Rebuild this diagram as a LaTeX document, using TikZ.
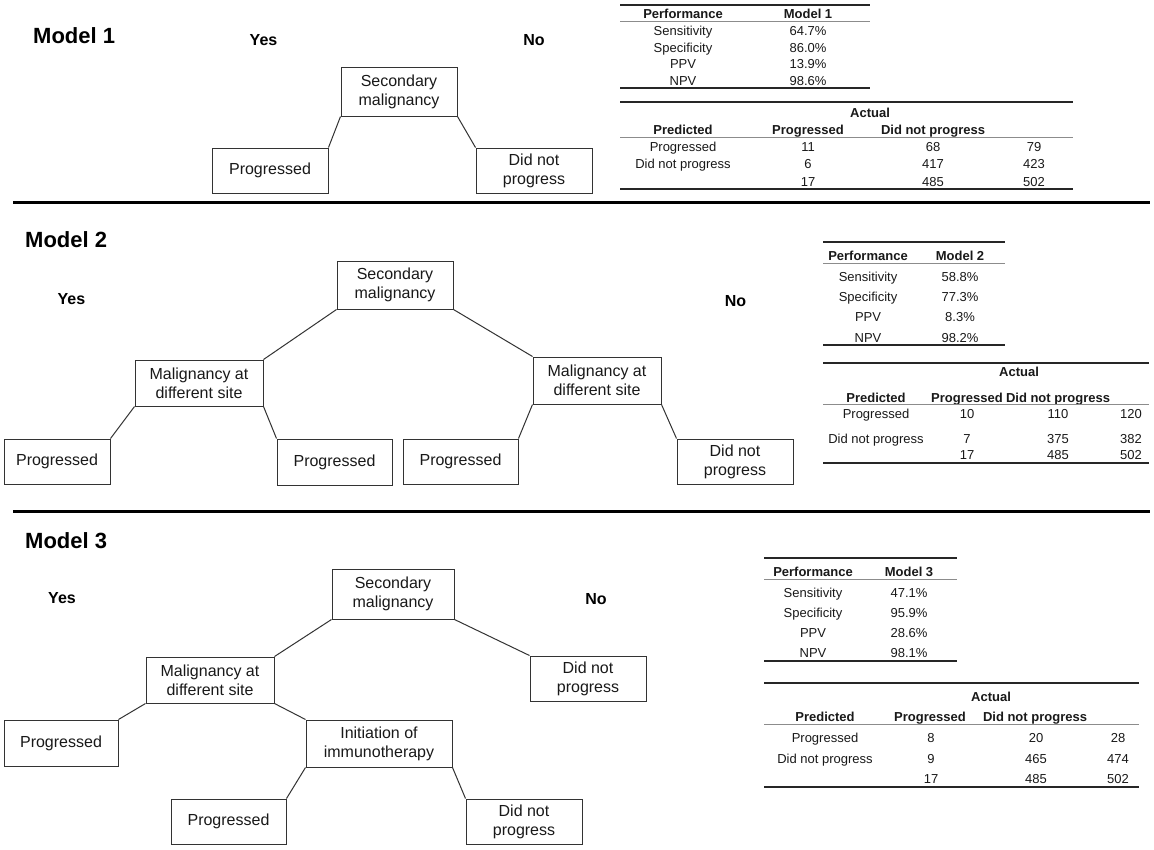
\documentclass[tikz,border=0pt]{standalone}
\usepackage{fontspec}
\setmainfont{Liberation Sans}
\begin{document}
\begin{tikzpicture}[x=1pt,y=-1pt,
 box/.style={draw=black!80,line width=1pt,inner sep=0pt,align=center,text=black!90,font=\fontsize{16}{19}\selectfont},
 conn/.style={draw=black!80,line width=1pt},
 title/.style={font=\bfseries\fontsize{22}{26}\selectfont,anchor=base west,inner sep=0pt},
 yn/.style={font=\bfseries\fontsize{16}{19}\selectfont,anchor=base,inner sep=0pt},
 tt/.style={font=\fontsize{13}{15}\selectfont,anchor=base,inner sep=0pt,text=black!90},
 th/.style={tt,font=\bfseries\fontsize{13}{15}\selectfont},
 sep/.style={line width=3pt,black},
 rule/.style={line width=1.8pt,black!85},
 mid/.style={line width=0.8pt,black!45}]
\useasboundingbox[fill=white] (0,0) rectangle (1154,849);

% ================= Model 1 =================
\node[title] (m1t) at (33,43) {Model 1};
\node[yn] (m1y) at (263.5,45) {Yes};
\node[yn] (m1n) at (534,45) {No};
\node[box,minimum width=116pt,minimum height=49pt] (m1s) at (399,91.5) {Secondary\\malignancy};
\node[box,minimum width=116pt,minimum height=45pt] (m1p) at (270,170.5) {Progressed};
\node[box,minimum width=116pt,minimum height=45pt] (m1d) at (534,170.5) {Did not\\progress};
\draw[conn] (m1s.south west) -- (m1p.north east);
\draw[conn] (m1s.south east) -- (m1d.north west);

\draw[rule] (620,5) -- (870,5);
\node[th] (p1h) at (683,18) {Performance};
\node[th] (p1m) at (808,18) {Model 1};
\draw[mid] (620,21.5) -- (870,21.5);
\foreach \lab/\val/\yy [count=\i] in {Sensitivity/64.7\%/35,Specificity/86.0\%/52,PPV/13.9\%/68,NPV/98.6\%/85}{
  \node[tt] (p1l\i) at (683,\yy) {\lab};
  \node[tt] (p1v\i) at (808,\yy) {\val};
}
\draw[rule] (620,88) -- (870,88);

\draw[rule] (620,102) -- (1073,102);
\node[th] (c1a) at (870,117) {Actual};
\node[th] (c1h1) at (683,134) {Predicted};
\node[th] (c1h2) at (808,134) {Progressed};
\node[th] (c1h3) at (933,134) {Did not progress};
\draw[mid] (620,137.5) -- (1073,137.5);
\foreach \lab/\a/\b/\c/\yy [count=\i] in {Progressed/11/68/79/151,Did not progress/6/417/423/168,{}/17/485/502/186}{
  \node[tt] (c1l\i) at (683,\yy) {\lab};
  \node[tt] (c1a\i) at (808,\yy) {\a};
  \node[tt] (c1b\i) at (933,\yy) {\b};
  \node[tt] (c1c\i) at (1034,\yy) {\c};
}
\draw[rule] (620,189) -- (1073,189);

\draw[sep] (13,202) -- (1150,202);

% ================= Model 2 =================
\node[title] (m2t) at (25,247) {Model 2};
\node[yn] (m2y) at (71.5,304) {Yes};
\node[yn] (m2n) at (735.5,306) {No};
\node[box,minimum width=116pt,minimum height=48pt] (m2s) at (395,285) {Secondary\\malignancy};
\node[box,minimum width=128pt,minimum height=46pt] (m2ml) at (199,383) {Malignancy at\\different site};
\node[box,minimum width=128pt,minimum height=47pt] (m2mr) at (597,380.5) {Malignancy at\\different site};
\node[box,minimum width=106pt,minimum height=45pt] (m2p1) at (57,461.5) {Progressed};
\node[box,minimum width=115pt,minimum height=46pt] (m2p2) at (334.5,462) {Progressed};
\node[box,minimum width=115pt,minimum height=45pt] (m2p3) at (460.5,461.5) {Progressed};
\node[box,minimum width=116pt,minimum height=45pt] (m2d) at (735,461.5) {Did not\\progress};
\draw[conn] (m2s.south west) -- (m2ml.north east);
\draw[conn] (m2s.south east) -- (m2mr.north west);
\draw[conn] (m2ml.south west) -- (m2p1.north east);
\draw[conn] (m2ml.south east) -- (m2p2.north west);
\draw[conn] (m2mr.south west) -- (m2p3.north east);
\draw[conn] (m2mr.south east) -- (m2d.north west);

\draw[rule] (823,242) -- (1005,242);
\node[th] (p2h) at (868,260) {Performance};
\node[th] (p2m) at (960,260) {Model 2};
\draw[mid] (823,263.5) -- (1005,263.5);
\foreach \lab/\val/\yy [count=\i] in {Sensitivity/58.8\%/281,Specificity/77.3\%/301,PPV/8.3\%/321,NPV/98.2\%/342}{
  \node[tt] (p2l\i) at (868,\yy) {\lab};
  \node[tt] (p2v\i) at (960,\yy) {\val};
}
\draw[rule] (823,345) -- (1005,345);

\draw[rule] (823,363) -- (1149,363);
\node[th] (c2a) at (1019,376) {Actual};
\node[th] (c2h1) at (876,402) {Predicted};
\node[th] (c2h2) at (967,402) {Progressed};
\node[th] (c2h3) at (1058,402) {Did not progress};
\draw[mid] (823,404.5) -- (1149,404.5);
\foreach \lab/\a/\b/\c/\yy [count=\i] in {Progressed/10/110/120/418,Did not progress/7/375/382/443,{}/17/485/502/459}{
  \node[tt] (c2l\i) at (876,\yy) {\lab};
  \node[tt] (c2a\i) at (967,\yy) {\a};
  \node[tt] (c2b\i) at (1058,\yy) {\b};
  \node[tt] (c2c\i) at (1131,\yy) {\c};
}
\draw[rule] (823,463) -- (1149,463);

\draw[sep] (13,511) -- (1150,511);

% ================= Model 3 =================
\node[title] (m3t) at (25,548) {Model 3};
\node[yn] (m3y) at (62,603) {Yes};
\node[yn] (m3n) at (596,604) {No};
\node[box,minimum width=122pt,minimum height=50pt] (m3s) at (393,594) {Secondary\\malignancy};
\node[box,minimum width=128pt,minimum height=46pt] (m3m) at (210,680) {Malignancy at\\different site};
\node[box,minimum width=116pt,minimum height=45pt] (m3d1) at (588,678.5) {Did not\\progress};
\node[box,minimum width=114pt,minimum height=46pt] (m3p1) at (61,743) {Progressed};
\node[box,minimum width=146pt,minimum height=47pt] (m3i) at (379,743.5) {Initiation of\\immunotherapy};
\node[box,minimum width=115pt,minimum height=45pt] (m3p2) at (228.5,821.5) {Progressed};
\node[box,minimum width=116pt,minimum height=45pt] (m3d2) at (524,821.5) {Did not\\progress};
\draw[conn] (m3s.south west) -- (m3m.north east);
\draw[conn] (m3s.south east) -- (m3d1.north west);
\draw[conn] (m3m.south west) -- (m3p1.north east);
\draw[conn] (m3m.south east) -- (m3i.north west);
\draw[conn] (m3i.south west) -- (m3p2.north east);
\draw[conn] (m3i.south east) -- (m3d2.north west);

\draw[rule] (764,558) -- (957,558);
\node[th] (p3h) at (813,576) {Performance};
\node[th] (p3m) at (909,576) {Model 3};
\draw[mid] (764,579.5) -- (957,579.5);
\foreach \lab/\val/\yy [count=\i] in {Sensitivity/47.1\%/597,Specificity/95.9\%/617,PPV/28.6\%/637,NPV/98.1\%/657}{
  \node[tt] (p3l\i) at (813,\yy) {\lab};
  \node[tt] (p3v\i) at (909,\yy) {\val};
}
\draw[rule] (764,661) -- (957,661);

\draw[rule] (764,683) -- (1139,683);
\node[th] (c3a) at (991,701) {Actual};
\node[th] (c3h1) at (825,721) {Predicted};
\node[th] (c3h2) at (930,721) {Progressed};
\node[th] (c3h3) at (1035,721) {Did not progress};
\draw[mid] (764,724.5) -- (1139,724.5);
\foreach \lab/\a/\b/\c/\yy [count=\i] in {Progressed/8/20/28/742,Did not progress/9/465/474/763,{}/17/485/502/783}{
  \node[tt] (c3l\i) at (825,\yy) {\lab};
  \node[tt] (c3a\i) at (931,\yy) {\a};
  \node[tt] (c3b\i) at (1036,\yy) {\b};
  \node[tt] (c3c\i) at (1118,\yy) {\c};
}
\draw[rule] (764,787) -- (1139,787);
\end{tikzpicture}
\end{document}
